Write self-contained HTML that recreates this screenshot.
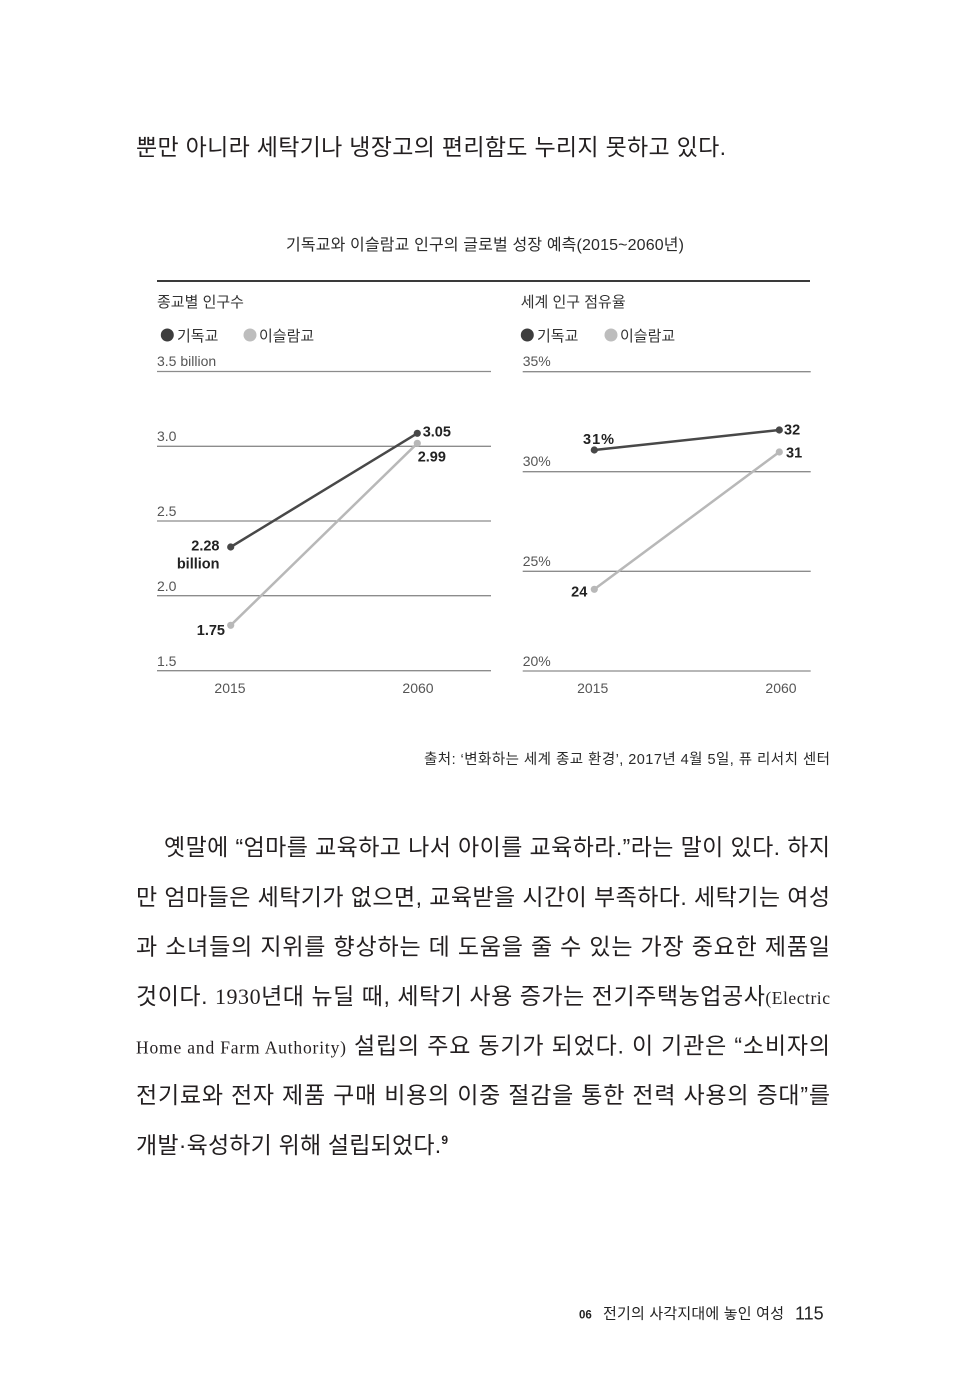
<!DOCTYPE html>
<html>
<head>
<meta charset="utf-8">
<style>
  html, body { margin:0; padding:0; background:#ffffff; }
  body { width:955px; height:1400px; overflow:hidden; }
  svg { display:block; }
  .kr { font-family:"Liberation Sans","Noto Sans CJK KR",sans-serif; }
  .body { font-family:"Liberation Sans","Noto Sans CJK KR",sans-serif; font-size:23px; fill:#231f20; font-weight:normal; }
  .serif { font-family:"Liberation Serif","Noto Serif CJK SC",serif; }
  .ax { font-family:"Liberation Sans","Noto Sans CJK KR",sans-serif; font-size:14px; fill:#555; }
  .lab { font-family:"Liberation Sans","Noto Sans CJK KR",sans-serif; font-size:14.5px; fill:#222; font-weight:bold; }
  .sub { font-family:"Liberation Sans","Noto Sans CJK KR",sans-serif; font-size:15px; fill:#333; }
</style>
</head>
<body>
<svg width="955" height="1400" viewBox="0 0 955 1400" xmlns="http://www.w3.org/2000/svg">
  <rect x="0" y="0" width="955" height="1400" fill="#ffffff"/>

  <!-- top body line -->
  <text class="body" x="136" y="155" textLength="590" lengthAdjust="spacing">뿐만 아니라 세탁기나 냉장고의 편리함도 누리지 못하고 있다.</text>

  <!-- chart title -->
  <text class="kr" x="286" y="250" font-size="16" fill="#2a2a2a" textLength="398" lengthAdjust="spacing">기독교와 이슬람교 인구의 글로벌 성장 예측(2015~2060년)</text>

  <!-- top rule -->
  <rect x="157" y="280" width="653" height="2" fill="#3a3a3a"/>

  <!-- ===== LEFT CHART ===== -->
  <text class="sub" x="157" y="307">종교별 인구수</text>
  <circle cx="167.3" cy="335" r="6.5" fill="#3d3d3d"/>
  <text class="sub" x="177" y="341">기독교</text>
  <circle cx="250" cy="335" r="6.5" fill="#bdbdbd"/>
  <text class="sub" x="259" y="341">이슬람교</text>

  <g stroke="#8c8c8c" stroke-width="1.3">
    <line x1="157" y1="371.5" x2="491" y2="371.5"/>
    <line x1="157" y1="446.3" x2="491" y2="446.3"/>
    <line x1="157" y1="521" x2="491" y2="521"/>
    <line x1="157" y1="595.7" x2="491" y2="595.7"/>
    <line x1="157" y1="670.7" x2="491" y2="670.7"/>
  </g>
  <text class="ax" x="157" y="366">3.5 billion</text>
  <text class="ax" x="157" y="441">3.0</text>
  <text class="ax" x="157" y="516">2.5</text>
  <text class="ax" x="157" y="591">2.0</text>
  <text class="ax" x="157" y="666">1.5</text>

  <text class="ax" x="230" y="693" text-anchor="middle" fill="#444">2015</text>
  <text class="ax" x="418" y="693" text-anchor="middle" fill="#444">2060</text>

  <line x1="230.7" y1="625.3" x2="417.3" y2="443.3" stroke="#b8b8b8" stroke-width="2.5"/>
  <line x1="230.7" y1="547" x2="417.3" y2="433.3" stroke="#484848" stroke-width="2.5"/>
  <circle cx="230.7" cy="625.3" r="3.6" fill="#b8b8b8"/>
  <circle cx="417.3" cy="443.3" r="3.6" fill="#b8b8b8"/>
  <circle cx="230.7" cy="547" r="3.6" fill="#484848"/>
  <circle cx="417.3" cy="433.3" r="3.6" fill="#484848"/>

  <text class="lab" x="219.5" y="550.7" text-anchor="end">2.28</text>
  <text class="lab" x="219.5" y="568.7" text-anchor="end">billion</text>
  <text class="lab" x="422.7" y="436.7">3.05</text>
  <text class="lab" x="417.7" y="461.7">2.99</text>
  <text class="lab" x="225" y="635" text-anchor="end">1.75</text>

  <!-- ===== RIGHT CHART ===== -->
  <text class="sub" x="520.7" y="307">세계 인구 점유율</text>
  <circle cx="527.3" cy="335" r="6.5" fill="#3d3d3d"/>
  <text class="sub" x="537" y="341">기독교</text>
  <circle cx="611" cy="335" r="6.5" fill="#bdbdbd"/>
  <text class="sub" x="620" y="341">이슬람교</text>

  <g stroke="#8c8c8c" stroke-width="1.3">
    <line x1="522.7" y1="371.7" x2="810.7" y2="371.7"/>
    <line x1="522.7" y1="471.7" x2="810.7" y2="471.7"/>
    <line x1="522.7" y1="571.3" x2="810.7" y2="571.3"/>
    <line x1="522.7" y1="671" x2="810.7" y2="671"/>
  </g>
  <text class="ax" x="522.7" y="366">35%</text>
  <text class="ax" x="522.7" y="466">30%</text>
  <text class="ax" x="522.7" y="566">25%</text>
  <text class="ax" x="522.7" y="666">20%</text>

  <text class="ax" x="592.7" y="693" text-anchor="middle" fill="#444">2015</text>
  <text class="ax" x="781" y="693" text-anchor="middle" fill="#444">2060</text>

  <line x1="594.3" y1="589.3" x2="779.3" y2="452" stroke="#b8b8b8" stroke-width="2.5"/>
  <line x1="594.3" y1="450" x2="779.3" y2="430" stroke="#484848" stroke-width="2.5"/>
  <circle cx="594.3" cy="589.3" r="3.6" fill="#b8b8b8"/>
  <circle cx="779.3" cy="452" r="3.6" fill="#b8b8b8"/>
  <circle cx="594.3" cy="450" r="3.6" fill="#484848"/>
  <circle cx="779.3" cy="430" r="3.6" fill="#484848"/>

  <text class="lab" x="583" y="444" letter-spacing="1">31%</text>
  <text class="lab" x="784" y="434.3">32</text>
  <text class="lab" x="786" y="457.3">31</text>
  <text class="lab" x="587.3" y="596.7" text-anchor="end">24</text>

  <!-- source -->
  <text class="kr" x="424" y="764" font-size="14.5" fill="#2a2a2a" textLength="406" lengthAdjust="spacing">출처: ‘변화하는 세계 종교 환경’, 2017년 4월 5일, 퓨 리서치 센터</text>

  <!-- paragraph -->
  <text class="body" x="164" y="855" textLength="666" lengthAdjust="spacing">옛말에 “엄마를 교육하고 나서 아이를 교육하라.”라는 말이 있다. 하지</text>
  <text class="body" x="136" y="904.8" textLength="694" lengthAdjust="spacing">만 엄마들은 세탁기가 없으면, 교육받을 시간이 부족하다. 세탁기는 여성</text>
  <text class="body" x="136" y="954.4" textLength="694" lengthAdjust="spacing">과 소녀들의 지위를 향상하는 데 도움을 줄 수 있는 가장 중요한 제품일</text>
  <text class="body" x="136" y="1004" textLength="694" lengthAdjust="spacing">것이다. <tspan class="serif" font-size="22">1930</tspan>년대 뉴딜 때, 세탁기 사용 증가는 전기주택농업공사<tspan class="serif" font-size="17.5">(Electric</tspan></text>
  <text class="body" x="136" y="1053.6" textLength="694" lengthAdjust="spacing"><tspan class="serif" font-size="17.5">Home and Farm Authority)</tspan> 설립의 주요 동기가 되었다. 이 기관은 “소비자의</text>
  <text class="body" x="136" y="1103.2" textLength="694" lengthAdjust="spacing">전기료와 전자 제품 구매 비용의 이중 절감을 통한 전력 사용의 증대”를</text>
  <text class="body" x="136" y="1152.8" textLength="312" lengthAdjust="spacing">개발·육성하기 위해 설립되었다.<tspan font-size="12" dy="-9" font-weight="bold">9</tspan></text>

  <!-- footer -->
  <text class="kr" x="579" y="1318.5" font-size="11.5" font-weight="bold" fill="#222">06</text>
  <text class="kr" x="603" y="1318.5" font-size="15" fill="#222" textLength="181" lengthAdjust="spacing">전기의 사각지대에 놓인 여성</text>
  <text class="kr" x="795" y="1319.3" font-size="18" fill="#222">115</text>
</svg>
</body>
</html>
